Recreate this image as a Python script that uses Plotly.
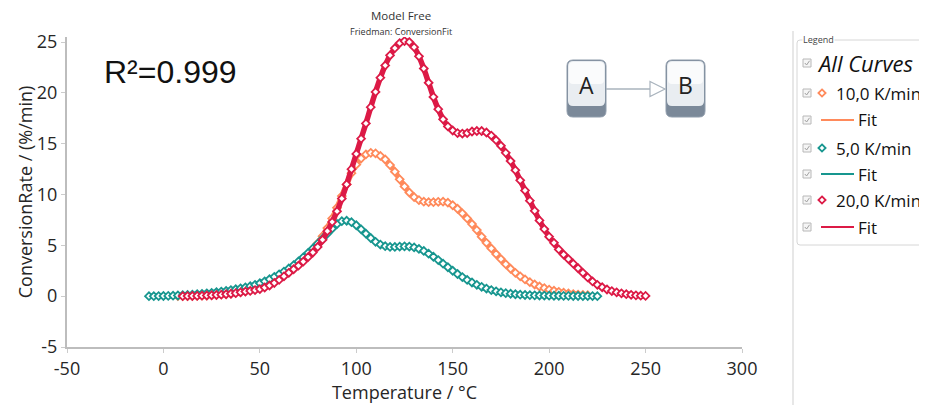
import plotly.graph_objects as go

# ---------------- data ----------------
TITLE = "Model Free"
SUBTITLE = "Friedman: ConversionFit"
X_TITLE = "Temperature / °C"
Y_TITLE = "ConversionRate / (%/min)"
X_TICKS = [-50, 0, 50, 100, 150, 200, 250, 300]
X_TICK_LABELS = ["-50", "0", "50", "100", "150", "200", "250", "300"]
Y_TICKS = [-5, 0, 5, 10, 15, 20, 25]
Y_TICK_LABELS = ["-5", "0", "5", "10", "15", "20", "25"]
R2_TEXT = "R²=0.999"
LEGEND_ALL = "All Curves"
NAME_10 = "10,0 K/min"
NAME_5 = "5,0 K/min"
NAME_20 = "20,0 K/min"
FIT_NAME = "Fit"
NODE_A = "A"
NODE_B = "B"

T_10 = [7.5, 10, 12.5, 15, 17.5, 20, 22.5, 25, 27.5, 30,
        32.5, 35, 37.5, 40, 42.5, 45, 47.5, 50, 52.5, 55,
        57.5, 60, 62.5, 65, 67.5, 70, 72.5, 75, 77.5, 80,
        82.5, 85, 87.5, 90, 92.5, 95, 97.5, 100, 102.5, 105,
        107.5, 110, 112.5, 115, 117.5, 120, 122.5, 125, 127.5, 130,
        132.5, 135, 137.5, 140, 142.5, 145, 147.5, 150, 152.5, 155,
        157.5, 160, 162.5, 165, 167.5, 170, 172.5, 175, 177.5, 180,
        182.5, 185, 187.5, 190, 192.5, 195, 197.5, 200, 202.5, 205,
        207.5, 210, 212.5, 215, 217.5, 220]
RATE_10 = [0.00, 0.01, 0.02, 0.03, 0.04, 0.05, 0.07, 0.10, 0.13, 0.17,
           0.21, 0.26, 0.32, 0.40, 0.48, 0.58, 0.70, 0.85, 1.02, 1.22,
           1.45, 1.72, 2.02, 2.35, 2.72, 3.12, 3.56, 4.05, 4.60, 5.20,
           5.90, 6.70, 7.65, 8.70, 9.85, 11.00, 12.10, 12.95, 13.55, 13.95,
           14.10, 14.05, 13.80, 13.45, 12.90, 12.25, 11.50, 10.80, 10.20, 9.75,
           9.45, 9.30, 9.25, 9.25, 9.28, 9.30, 9.20, 8.95, 8.60, 8.15,
           7.65, 7.10, 6.50, 5.85, 5.25, 4.70, 4.15, 3.65, 3.15, 2.70,
           2.30, 1.95, 1.65, 1.38, 1.15, 0.95, 0.80, 0.65, 0.53, 0.43,
           0.34, 0.27, 0.21, 0.16, 0.12, 0.09]

T_5 = [-7.5, -5, -2.5, 0, 2.5, 5, 7.5, 10, 12.5, 15,
       17.5, 20, 22.5, 25, 27.5, 30, 32.5, 35, 37.5, 40,
       42.5, 45, 47.5, 50, 52.5, 55, 57.5, 60, 62.5, 65,
       67.5, 70, 72.5, 75, 77.5, 80, 82.5, 85, 87.5, 90,
       92.5, 95, 97.5, 100, 102.5, 105, 107.5, 110, 112.5, 115,
       117.5, 120, 122.5, 125, 127.5, 130, 132.5, 135, 137.5, 140,
       142.5, 145, 147.5, 150, 152.5, 155, 157.5, 160, 162.5, 165,
       167.5, 170, 172.5, 175, 177.5, 180, 182.5, 185, 187.5, 190,
       192.5, 195, 197.5, 200, 202.5, 205, 207.5, 210, 212.5, 215,
       217.5, 220, 222.5, 225]
RATE_5 = [0.00, 0.00, 0.01, 0.02, 0.03, 0.05, 0.07, 0.09, 0.12, 0.15,
          0.19, 0.23, 0.28, 0.33, 0.39, 0.45, 0.52, 0.60, 0.68, 0.77,
          0.87, 0.98, 1.12, 1.28, 1.46, 1.67, 1.90, 2.15, 2.42, 2.72,
          3.05, 3.42, 3.82, 4.25, 4.70, 5.17, 5.65, 6.15, 6.65, 7.10,
          7.38, 7.42, 7.28, 6.98, 6.58, 6.15, 5.72, 5.35, 5.08, 4.92,
          4.85, 4.85, 4.88, 4.90, 4.88, 4.80, 4.65, 4.45, 4.18, 3.88,
          3.55, 3.20, 2.85, 2.50, 2.18, 1.88, 1.60, 1.35, 1.12, 0.92,
          0.75, 0.60, 0.48, 0.38, 0.30, 0.24, 0.19, 0.15, 0.12, 0.10,
          0.08, 0.07, 0.06, 0.05, 0.04, 0.04, 0.03, 0.03, 0.02, 0.02,
          0.01, 0.01, 0.01, 0.00]

T_20 = [10, 12.5, 15, 17.5, 20, 22.5, 25, 27.5, 30, 32.5,
        35, 37.5, 40, 42.5, 45, 47.5, 50, 52.5, 55, 57.5,
        60, 62.5, 65, 67.5, 70, 72.5, 75, 77.5, 80, 82.5,
        85, 87.5, 90, 92.5, 95, 97.5, 100, 102.5, 105, 107.5,
        110, 112.5, 115, 117.5, 120, 122.5, 125, 127.5, 130, 132.5,
        135, 137.5, 140, 142.5, 145, 147.5, 150, 152.5, 155, 157.5,
        160, 162.5, 165, 167.5, 170, 172.5, 175, 177.5, 180, 182.5,
        185, 187.5, 190, 192.5, 195, 197.5, 200, 202.5, 205, 207.5,
        210, 212.5, 215, 217.5, 220, 222.5, 225, 227.5, 230, 232.5,
        235, 237.5, 240, 242.5, 245, 247.5, 250]
RATE_20 = [0.00, 0.01, 0.02, 0.03, 0.05, 0.07, 0.09, 0.12, 0.15, 0.19,
           0.24, 0.30, 0.38, 0.45, 0.52, 0.60, 0.70, 0.85, 1.05, 1.30,
           1.60, 1.95, 2.30, 2.65, 3.00, 3.40, 3.85, 4.30, 4.85, 5.55,
           6.40, 7.30, 8.35, 9.60, 11.00, 12.50, 14.00, 15.50, 17.00, 18.60,
           20.10, 21.50, 22.70, 23.70, 24.40, 24.90, 25.10, 25.00, 24.50, 23.60,
           22.40, 21.00, 19.60, 18.40, 17.40, 16.70, 16.30, 16.05, 16.00, 16.05,
           16.20, 16.25, 16.25, 16.10, 15.80, 15.35, 14.80, 14.10, 13.30, 12.40,
           11.40, 10.40, 9.40, 8.40, 7.45, 6.60, 5.85, 5.25, 4.60, 4.10,
           3.65, 3.20, 2.75, 2.30, 1.85, 1.45, 1.12, 0.88, 0.66, 0.50,
           0.38, 0.28, 0.20, 0.13, 0.08, 0.05, 0.03]

# ---------------- style ----------------
ORANGE = "#FF8A5B"
TEAL = "#17968F"
RED = "#DC1A46"
FONT = "Open Sans"

OFF = 8                      # page body margin of the browser
W, H = 927 - OFF, 405 - OFF  # figure size
ML, MR, MT, MB = 67 - OFF, 185, 37 - OFF, 58
PW = W - ML - MR
PH = H - MT - MB


def fx(px):
    """window pixel x -> paper x"""
    return (px - OFF - ML) / PW


def fy(py):
    """window pixel y -> paper y"""
    return (H - MB - (py - OFF)) / PH


fig = go.Figure()

for temps, rates, col, name in [(T_10, RATE_10, ORANGE, NAME_10),
                                (T_5, RATE_5, TEAL, NAME_5),
                                (T_20, RATE_20, RED, NAME_20)]:
    fig.add_trace(go.Scatter(
        x=temps, y=rates, mode="lines", name=FIT_NAME,
        line=dict(color=col, width=5.5, shape="spline"),
        showlegend=False, hoverinfo="skip"))
    fig.add_trace(go.Scatter(
        x=temps, y=rates, mode="markers", name=name,
        marker=dict(symbol="diamond", size=6, color="white",
                    line=dict(color=col, width=1.8)),
        showlegend=False))

shapes = []
annotations = []

# title
annotations.append(dict(text=TITLE, xref="paper", yref="paper", x=fx(401), y=fy(15.5),
                        showarrow=False, font=dict(family=FONT, size=11.5, color="#333333"),
                        xanchor="center", yanchor="middle", borderpad=0))
annotations.append(dict(text=SUBTITLE, xref="paper", yref="paper", x=fx(401), y=fy(31),
                        showarrow=False, font=dict(family=FONT, size=9, color="#333333"),
                        xanchor="center", yanchor="middle", borderpad=0))
# R^2
annotations.append(dict(text=R2_TEXT, xref="paper", yref="paper", x=fx(102), y=fy(72),
                        showarrow=False, font=dict(family="Liberation Sans", size=32, color="#111111"),
                        xanchor="left", yanchor="middle"))


def rrect(x0, y0, x1, y1, r):
    return (f"M {fx(x0 + r)},{fy(y0)} L {fx(x1 - r)},{fy(y0)} "
            f"Q {fx(x1)},{fy(y0)} {fx(x1)},{fy(y0 + r)} L {fx(x1)},{fy(y1 - r)} "
            f"Q {fx(x1)},{fy(y1)} {fx(x1 - r)},{fy(y1)} L {fx(x0 + r)},{fy(y1)} "
            f"Q {fx(x0)},{fy(y1)} {fx(x0)},{fy(y1 - r)} L {fx(x0)},{fy(y0 + r)} "
            f"Q {fx(x0)},{fy(y0)} {fx(x0 + r)},{fy(y0)} Z")


# A -> B diagram
for (x0, x1, label) in [(567, 606, NODE_A), (666, 705, NODE_B)]:
    shapes.append(dict(type="path", xref="paper", yref="paper", path=rrect(x0, 60, x1, 117, 6),
                       fillcolor="#7b8999", line=dict(color="#8f9cab", width=1)))
    shapes.append(dict(type="path", xref="paper", yref="paper", path=rrect(x0 + 1, 61, x1 - 1, 106, 5),
                       fillcolor="#e9edf1", line=dict(width=0)))
    shapes.append(dict(type="path", xref="paper", yref="paper", path=rrect(x0 + 2, 62, x1 - 2, 84, 4),
                       fillcolor="#fafbfc", line=dict(width=0)))
    annotations.append(dict(text=label, xref="paper", yref="paper", x=fx((x0 + x1) / 2), y=fy(85),
                            showarrow=False, font=dict(family=FONT, size=23, color="#222222"),
                            xanchor="center", yanchor="middle"))
shapes.append(dict(type="line", xref="paper", yref="paper", x0=fx(606), x1=fx(650), y0=fy(89), y1=fy(89),
                   line=dict(color="#a9b3bd", width=1.5)))
shapes.append(dict(type="path", xref="paper", yref="paper",
                   path=f"M {fx(650)},{fy(81.5)} L {fx(665)},{fy(89)} L {fx(650)},{fy(96.5)} Z",
                   fillcolor="white", line=dict(color="#a9b3bd", width=1.2)))

# legend panel
shapes.append(dict(type="line", xref="paper", yref="paper", x0=fx(793), x1=fx(793), y0=fy(31), y1=fy(406),
                   line=dict(color="#cfcfcf", width=1)))
shapes.append(dict(type="path", xref="paper", yref="paper", path=rrect(797, 40, 940, 245, 3),
                   fillcolor="rgba(0,0,0,0)", line=dict(color="#d6d6d6", width=1)))
annotations.append(dict(text="Legend", xref="paper", yref="paper", x=fx(802), y=fy(40),
                        showarrow=False, font=dict(family=FONT, size=9, color="#444444"),
                        xanchor="left", yanchor="middle", bgcolor="white", borderpad=0))

entries = [
    (63, "all", None, LEGEND_ALL),
    (93, "marker", ORANGE, NAME_10),
    (120, "line", ORANGE, FIT_NAME),
    (148, "marker", TEAL, NAME_5),
    (174, "line", TEAL, FIT_NAME),
    (200, "marker", RED, NAME_20),
    (227, "line", RED, FIT_NAME),
]
for cy, kind, col, text in entries:
    shapes.append(dict(type="rect", xref="paper", yref="paper", x0=fx(803), x1=fx(811), y0=fy(cy - 4), y1=fy(cy + 4),
                       fillcolor="#f5f5f5", line=dict(color="#b8b8b8", width=1)))
    shapes.append(dict(type="path", xref="paper", yref="paper",
                       path=f"M {fx(804.8)},{fy(cy)} L {fx(806.6)},{fy(cy + 2)} L {fx(809.5)},{fy(cy - 2.2)}",
                       line=dict(color="#a0a0a0", width=1)))
    if kind == "all":
        annotations.append(dict(text=f"<i>{text}</i>", xref="paper", yref="paper", x=fx(815), y=fy(cy),
                                showarrow=False, font=dict(family=FONT, size=22, color="#111111"),
                                xanchor="left", yanchor="middle"))
        continue
    if kind == "marker":
        shapes.append(dict(type="path", xref="paper", yref="paper",
                           path=(f"M {fx(822)},{fy(cy - 3.6)} L {fx(825.6)},{fy(cy)} "
                                 f"L {fx(822)},{fy(cy + 3.6)} L {fx(818.4)},{fy(cy)} Z"),
                           fillcolor="white", line=dict(color=col, width=1.8)))
        tx = 834
    else:
        shapes.append(dict(type="line", xref="paper", yref="paper", x0=fx(821), x1=fx(854), y0=fy(cy), y1=fy(cy),
                           line=dict(color=col, width=2)))
        tx = 856
    annotations.append(dict(text=text, xref="paper", yref="paper", x=fx(tx), y=fy(cy),
                            showarrow=False, font=dict(family=FONT, size=17, color="#111111"),
                            xanchor="left", yanchor="middle"))

axis_common = dict(showgrid=False, zeroline=False, showline=True, linecolor="#bdbdbd", linewidth=2,
                   ticks="outside", ticklen=4, tickcolor="#cccccc", tickwidth=1,
                   tickfont=dict(family=FONT, size=18, color="#262626"), automargin=False)

fig.update_layout(
    width=W, height=H, template="none",
    margin=dict(l=ML, r=MR, t=MT, b=MB),
    paper_bgcolor="white", plot_bgcolor="white",
    showlegend=False,
    xaxis=dict(range=[-50, 300], tickvals=X_TICKS, ticktext=X_TICK_LABELS,
               title=dict(text=X_TITLE, font=dict(family=FONT, size=18, color="#262626"), standoff=0),
               **axis_common),
    yaxis=dict(range=[-5, 25.5], tickvals=Y_TICKS, ticktext=Y_TICK_LABELS,
               title=dict(text=Y_TITLE, font=dict(family=FONT, size=18, color="#262626"), standoff=0),
               **axis_common),
    shapes=shapes,
    annotations=annotations,
)

fig.write_html("out.html")
